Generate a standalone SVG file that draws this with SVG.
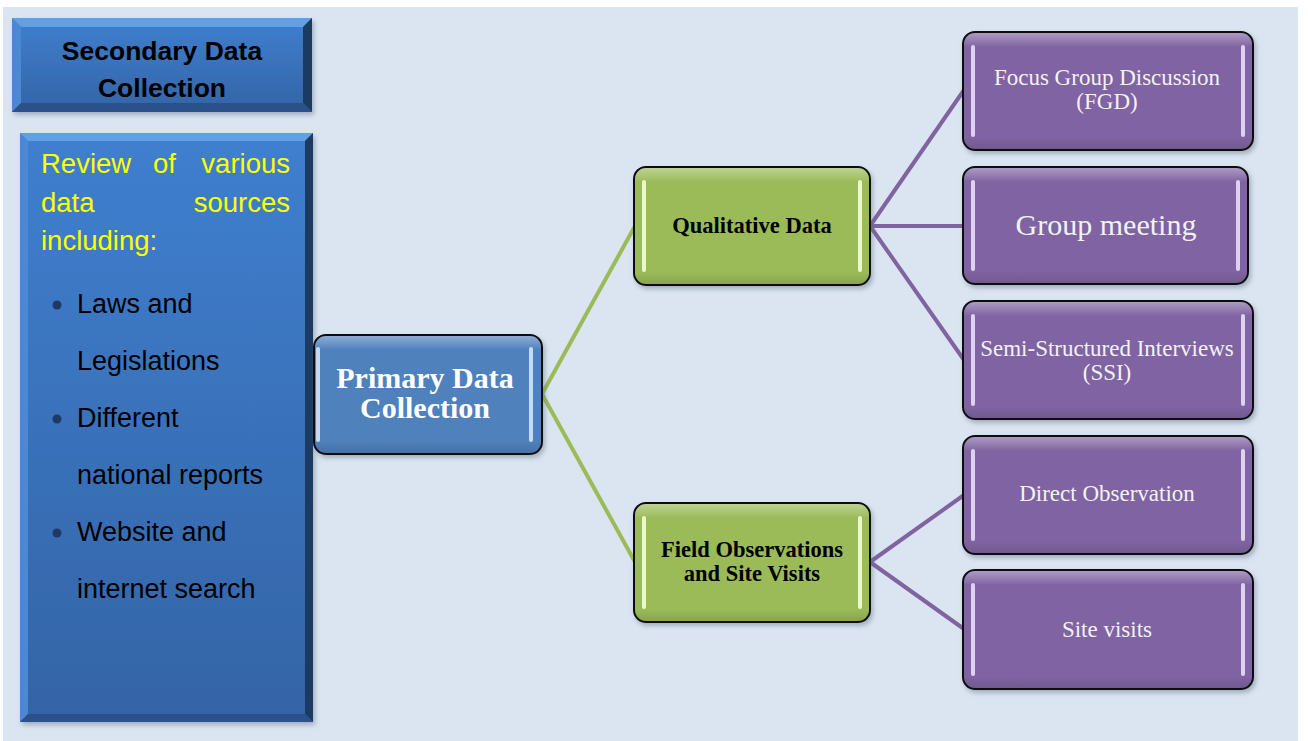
<svg xmlns="http://www.w3.org/2000/svg" width="1308" height="741" viewBox="0 0 1308 741">
<defs>
<linearGradient id="blueFace" x1="0" y1="0" x2="0" y2="1">
<stop offset="0" stop-color="#3f7fcf"/>
<stop offset="1" stop-color="#3464a6"/>
</linearGradient>
<linearGradient id="gloss" x1="0" y1="0" x2="0" y2="1">
<stop offset="0" stop-color="#fff" stop-opacity="0.35"/>
<stop offset="0.12" stop-color="#fff" stop-opacity="0"/>
<stop offset="0.9" stop-color="#000" stop-opacity="0"/>
<stop offset="1" stop-color="#000" stop-opacity="0.12"/>
</linearGradient>
<filter id="sh" x="-10%" y="-10%" width="130%" height="130%">
<feDropShadow dx="2" dy="3" stdDeviation="2.5" flood-color="#5a6a80" flood-opacity="0.45"/>
</filter>
<style>
.bev-top{fill:#62a0e6}
.bev-left{fill:#4b89d3}
.bev-right{fill:#1d3a63}
.bev-bot{fill:#2b5189}
.rnode{stroke:#101010;stroke-width:2}
.blue{fill:#4f81bd}
.green{fill:#9bbb59}
.purple{fill:#8064a2}
.hl{opacity:0.8}
.hlg{fill:#f4ffd8;opacity:0.9}
.hlp{fill:#f0e4ff;opacity:0.85}
.sans{font-family:"Liberation Sans",Arial,sans-serif}
.serif{font-family:"Liberation Serif","Times New Roman",serif}
.yl{fill:#ffff00;font-size:27.5px}
.bl{fill:#000;font-size:27px}
.ptxt{fill:#f2f2f2;font-size:23px;text-anchor:middle}
.gtxt{fill:#000;font-size:22.5px;font-weight:bold;text-anchor:middle}
.conn-g{stroke:#9bbb59;stroke-width:4;fill:none}
.conn-p{stroke:#8064a2;stroke-width:4;fill:none}
</style>
</defs>
<rect x="0" y="0" width="1308" height="741" fill="#ffffff"/>
<rect x="3" y="7" width="1295" height="734" fill="#dbe5f1"/>

<g id="connectors">
<line class="conn-g" x1="542" y1="394" x2="635" y2="226"/>
<line class="conn-g" x1="542" y1="394" x2="635" y2="562"/>
<line class="conn-p" x1="870" y1="226" x2="964" y2="90"/>
<line class="conn-p" x1="870" y1="226" x2="964" y2="226"/>
<line class="conn-p" x1="870" y1="226" x2="964" y2="360"/>
<line class="conn-p" x1="870" y1="562" x2="964" y2="495"/>
<line class="conn-p" x1="870" y1="562" x2="964" y2="629"/>
</g>

<g id="secondary-title">
<g filter="url(#sh)">
<rect x="12" y="18" width="300" height="94" fill="url(#blueFace)"/>
<polygon class="bev-top" points="12,18 312,18 303,27 21,27"/>
<polygon class="bev-left" points="12,18 21,27 21,103 12,112"/>
<polygon class="bev-right" points="312,18 312,112 303,103 303,27"/>
<polygon class="bev-bot" points="12,112 312,112 303,103 21,103"/>
</g>
<text class="sans" x="162" y="60" font-size="26.5" font-weight="bold" text-anchor="middle" fill="#000">Secondary Data</text>
<text class="sans" x="162" y="97" font-size="26.5" font-weight="bold" text-anchor="middle" fill="#000">Collection</text>
</g>

<g id="secondary-list">
<g filter="url(#sh)">
<rect x="20" y="133" width="293" height="589" fill="url(#blueFace)"/>
<polygon class="bev-top" points="20,133 313,133 305,141 28,141"/>
<polygon class="bev-left" points="20,133 28,141 28,714 20,722"/>
<polygon class="bev-right" points="313,133 313,722 305,714 305,141"/>
<polygon class="bev-bot" points="20,722 313,722 305,714 28,714"/>
</g>
<g class="sans">
<text class="yl" x="41" y="173">Review</text>
<text class="yl" x="153" y="173">of</text>
<text class="yl" x="290" y="173" text-anchor="end">various</text>
<text class="yl" x="41" y="212">data</text>
<text class="yl" x="290" y="212" text-anchor="end">sources</text>
<text class="yl" x="41" y="250">including:</text>
<circle cx="57" cy="305" r="4.5" fill="#1f3864"/>
<text class="bl" x="77" y="313">Laws and</text>
<text class="bl" x="77" y="370">Legislations</text>
<circle cx="57" cy="419" r="4.5" fill="#1f3864"/>
<text class="bl" x="77" y="427">Different</text>
<text class="bl" x="77" y="484">national reports</text>
<circle cx="57" cy="533" r="4.5" fill="#1f3864"/>
<text class="bl" x="77" y="541">Website and</text>
<text class="bl" x="77" y="598">internet search</text>
</g>
</g>

<g id="primary">
<g filter="url(#sh)">
<rect class="rnode blue" x="314" y="335" width="228" height="119" rx="12"/>
<rect x="315" y="336" width="226" height="117" rx="11" fill="url(#gloss)"/>
<rect class="hl" x="316" y="347" width="4" height="95" rx="2" fill="#dff0ff"/>
<rect class="hl" x="529" y="347" width="4" height="95" rx="2" fill="#dff0ff"/>
</g>
<text class="serif" x="425" y="388" font-size="30" font-weight="bold" text-anchor="middle" fill="#fff">Primary Data</text>
<text class="serif" x="425" y="418" font-size="30" font-weight="bold" text-anchor="middle" fill="#fff">Collection</text>
</g>

<g id="qualitative">
<g filter="url(#sh)">
<rect class="rnode green" x="634" y="167" width="236" height="118" rx="12"/>
<rect x="635" y="168" width="234" height="116" rx="11" fill="url(#gloss)"/>
<rect class="hlg" x="642" y="180" width="4" height="92" rx="2"/>
<rect class="hlg" x="858" y="180" width="4" height="92" rx="2"/>
</g>
<text class="serif gtxt" x="752" y="233">Qualitative Data</text>
</g>

<g id="field">
<g filter="url(#sh)">
<rect class="rnode green" x="634" y="503" width="236" height="119" rx="12"/>
<rect x="635" y="504" width="234" height="117" rx="11" fill="url(#gloss)"/>
<rect class="hlg" x="642" y="516" width="4" height="93" rx="2"/>
<rect class="hlg" x="858" y="516" width="4" height="93" rx="2"/>
</g>
<text class="serif gtxt" x="752" y="557">Field Observations</text>
<text class="serif gtxt" x="752" y="581">and Site Visits</text>
</g>

<g id="fgd">
<g filter="url(#sh)">
<rect class="rnode purple" x="963" y="32" width="290" height="118" rx="12"/>
<rect x="964" y="33" width="288" height="116" rx="11" fill="url(#gloss)"/>
<rect class="hlp" x="971" y="45" width="4" height="92" rx="2"/>
<rect class="hlp" x="1241" y="45" width="4" height="92" rx="2"/>
</g>
<text class="serif ptxt" x="1107" y="85">Focus Group Discussion</text>
<text class="serif ptxt" x="1107" y="109">(FGD)</text>
</g>

<g id="group-meeting">
<g filter="url(#sh)">
<rect class="rnode purple" x="963" y="167" width="285" height="117" rx="12"/>
<rect x="964" y="168" width="283" height="115" rx="11" fill="url(#gloss)"/>
<rect class="hlp" x="971" y="180" width="4" height="91" rx="2"/>
<rect class="hlp" x="1236" y="180" width="4" height="91" rx="2"/>
</g>
<text class="serif" x="1106" y="235" font-size="30" text-anchor="middle" fill="#f2f2f2">Group meeting</text>
</g>

<g id="ssi">
<g filter="url(#sh)">
<rect class="rnode purple" x="963" y="301" width="290" height="118" rx="12"/>
<rect x="964" y="302" width="288" height="116" rx="11" fill="url(#gloss)"/>
<rect class="hlp" x="971" y="314" width="4" height="92" rx="2"/>
<rect class="hlp" x="1241" y="314" width="4" height="92" rx="2"/>
</g>
<text class="serif ptxt" x="1107" y="356">Semi-Structured Interviews</text>
<text class="serif ptxt" x="1107" y="380">(SSI)</text>
</g>

<g id="direct-observation">
<g filter="url(#sh)">
<rect class="rnode purple" x="963" y="436" width="290" height="118" rx="12"/>
<rect x="964" y="437" width="288" height="116" rx="11" fill="url(#gloss)"/>
<rect class="hlp" x="971" y="449" width="4" height="92" rx="2"/>
<rect class="hlp" x="1241" y="449" width="4" height="92" rx="2"/>
</g>
<text class="serif ptxt" x="1107" y="501">Direct Observation</text>
</g>

<g id="site-visits">
<g filter="url(#sh)">
<rect class="rnode purple" x="963" y="570" width="290" height="119" rx="12"/>
<rect x="964" y="571" width="288" height="117" rx="11" fill="url(#gloss)"/>
<rect class="hlp" x="971" y="583" width="4" height="93" rx="2"/>
<rect class="hlp" x="1241" y="583" width="4" height="93" rx="2"/>
</g>
<text class="serif ptxt" x="1107" y="637">Site visits</text>
</g>
</svg>
